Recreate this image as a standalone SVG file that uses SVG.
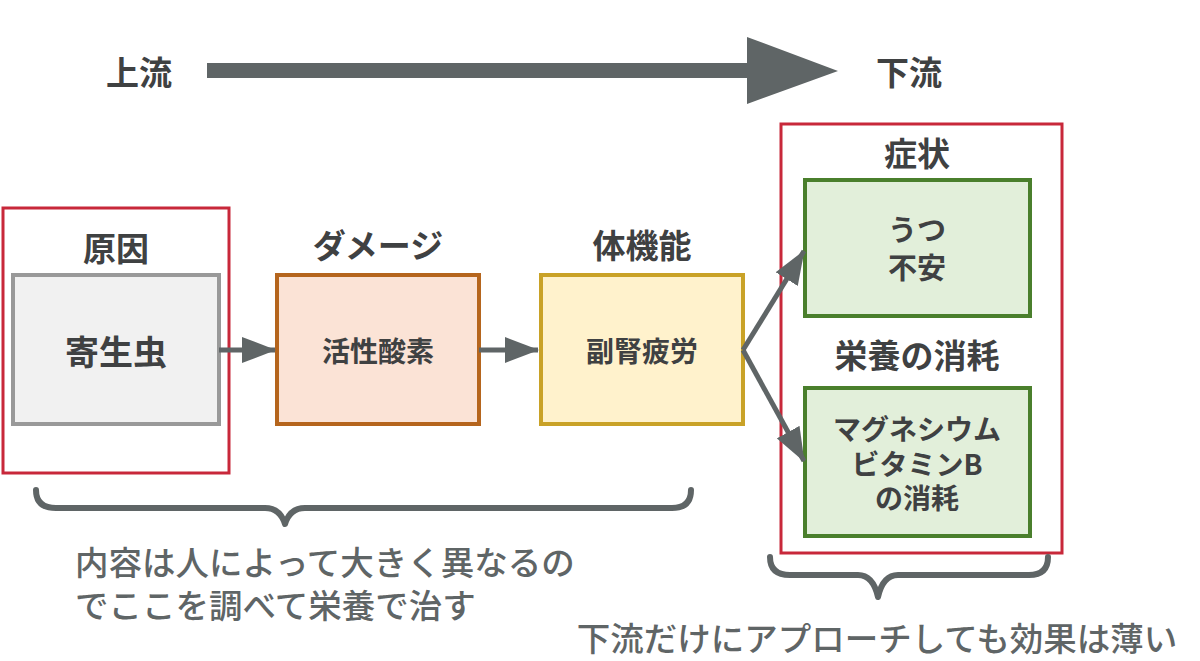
<svg xmlns="http://www.w3.org/2000/svg" width="1200" height="661" viewBox="0 0 1200 661">
<defs>
<style>
text{font-family:"Noto Sans CJK JP","Noto Sans",sans-serif;text-anchor:middle;dominant-baseline:central}
.hd{font-size:33px;font-weight:700;fill:#3f4142}
.in{font-size:28px;font-weight:700;fill:#3f4142}
.note{font-size:33.5px;font-weight:500;fill:#5f6566;text-anchor:start}
.red{fill:none;stroke:#c8283a;stroke-width:3}
.conn{stroke:#5f6566;stroke-width:5;fill:none}
.brace{stroke:#5f6566;stroke-width:6;fill:none;stroke-linecap:round;stroke-linejoin:round}
</style>
<marker id="ah" markerUnits="userSpaceOnUse" markerWidth="34" markerHeight="26" refX="33" refY="13" orient="auto">
<path d="M0,0 L34,13 L0,26 Z" fill="#5f6566"/>
</marker>
</defs>
<rect width="1200" height="661" fill="#ffffff"/>

<g id="flow">
<polygon points="207,63 747,63 747,37 838,71 747,104 747,78 207,78" fill="#5f6566"/>
<text class="hd" x="139" y="71">上流</text>
<text class="hd" x="909" y="71">下流</text>
</g>

<g id="cause">
<rect class="red" x="3" y="208" width="226" height="265"/>
<text class="hd" x="116" y="247">原因</text>
<rect x="13" y="275" width="206" height="149" fill="#f1f1f1" stroke="#999999" stroke-width="4"/>
<text class="in" x="116" y="350" style="font-size:34px">寄生虫</text>
</g>

<g id="damage">
<text class="hd" x="378" y="244">ダメージ</text>
<rect x="277" y="275" width="202" height="149" fill="#fbe3d6" stroke="#b5651d" stroke-width="4"/>
<text class="in" x="378" y="350">活性酸素</text>
</g>

<g id="body">
<text class="hd" x="642" y="244">体機能</text>
<rect x="541" y="275" width="202" height="149" fill="#fff2cc" stroke="#c9a227" stroke-width="4"/>
<text class="in" x="642" y="350">副腎疲労</text>
</g>

<g id="symptoms">
<rect class="red" x="781" y="124" width="281" height="429"/>
<text class="hd" x="917" y="152">症状</text>
<rect x="805" y="180" width="225" height="136" fill="#e2efda" stroke="#4a7f2c" stroke-width="4"/>
<text class="in" x="917" y="228" style="font-size:29px">うつ</text>
<text class="in" x="917" y="266" style="font-size:29px">不安</text>
<text class="hd" x="917" y="354">栄養の消耗</text>
<rect x="805" y="388" width="225" height="148" fill="#e2efda" stroke="#4a7f2c" stroke-width="4"/>
<text class="in" x="917" y="428">マグネシウム</text>
<text class="in" x="917" y="463">ビタミンB</text>
<text class="in" x="917" y="497">の消耗</text>
</g>

<g id="connectors">
<line class="conn" x1="219" y1="350" x2="275" y2="350" marker-end="url(#ah)"/>
<line class="conn" x1="479" y1="350" x2="538" y2="350" marker-end="url(#ah)"/>
<line class="conn" x1="743" y1="350" x2="804" y2="251" marker-end="url(#ah)"/>
<line class="conn" x1="743" y1="350" x2="804" y2="461" marker-end="url(#ah)"/>
</g>

<g id="brace-left">
<path class="brace" d="M36,490 Q36,508 56,508 L265,508 Q280,508 285,524 Q290,508 305,508 L672,508 Q691,508 691,490"/>
<text class="note" x="75" y="560">内容は人によって大きく異なるの</text>
<text class="note" x="75" y="603">でここを調べて栄養で治す</text>
</g>

<g id="brace-right">
<path class="brace" d="M770,557 Q770,575 790,575 L858,575 Q873,575 878,597 Q883,575 898,575 L1029,575 Q1048,575 1048,557"/>
<text class="note" x="877" y="636" style="text-anchor:middle">下流だけにアプローチしても効果は薄い</text>
</g>
</svg>
